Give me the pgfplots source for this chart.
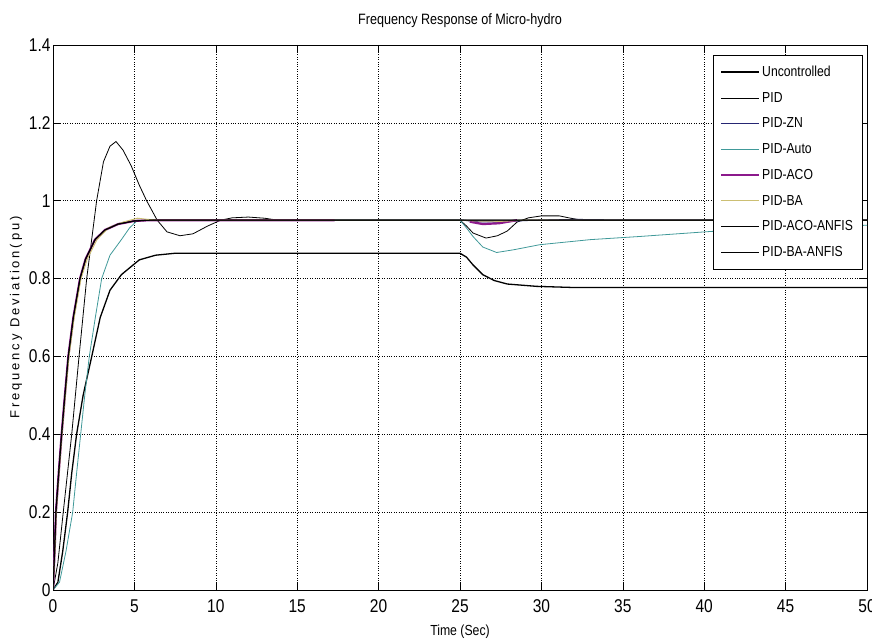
\documentclass[border=0pt]{standalone}
\usepackage{fontspec}
\setmainfont{Liberation Sans}[FakeStretch=0.84]
\newfontfamily\ylabfont{Liberation Sans}[LetterSpace=22]
\usepackage{pgfplots}
\pgfplotsset{compat=1.18}

\definecolor{cAuto}{rgb}{0.25,0.6,0.6}
\definecolor{cZN}{rgb}{0.15,0.15,0.45}
\definecolor{cACO}{rgb}{0.55,0.1,0.55}
\definecolor{cBA}{rgb}{0.8,0.75,0.45}

\begin{document}
\begin{tikzpicture}
\begin{axis}[
    name=ax,
    scale only axis,
    width=814pt, height=545pt,
    xmin=0, xmax=50, ymin=0, ymax=1.4,
    xtick={0,5,...,50},
    ytick={0,0.2,...,1.4},
    tick align=inside,
    tick pos=both,
    major tick length=8pt,
    grid=major,
    major grid style={black, dotted, line width=0.6pt},
    axis line style={black, line width=0.7pt},
    tick style={black, line width=0.6pt},
    /pgf/number format/assume math mode=true,
    ticklabel style={font=\fontsize{18.5}{18.5}\selectfont},
    xticklabel style={yshift=-6pt},
    yticklabel style={xshift=1pt},
    title={Frequency Response of Micro-hydro},
    title style={font=\fontsize{15}{15}\selectfont, yshift=8pt},
    xlabel={Time (Sec)},
    xlabel style={font=\fontsize{14.6}{14.6}\selectfont, yshift=-5pt},
    ylabel={\ylabfont Frequency Deviation(pu)},
    ylabel style={font=\fontsize{13}{13}\selectfont, yshift=0pt},
    legend style={at={(rel axis cs:0.994,0.982)}, anchor=north east,
        draw=black, fill=white, font=\fontsize{14.5}{14.5}\selectfont,
        row sep=10.2pt, inner xsep=7pt, inner ysep=9pt,
        /tikz/every even column/.append style={column sep=2pt}},
    legend cell align=left,
    legend image code/.code={\draw[#1] (0pt,0pt) -- (38pt,0pt);},
    unbounded coords=jump,
]
% Uncontrolled
\addplot[black, line width=1.3pt] coordinates {
(0,0) (0.3,0.02) (0.6,0.1) (0.9,0.2) (1.15,0.3) (1.45,0.4) (1.85,0.5)
(2.38,0.6) (2.9,0.7) (3.5,0.77) (4.2,0.81) (5.3,0.848) (6.3,0.86)
(7.5,0.865) (25,0.865) (25.4,0.855) (25.8,0.835) (26.4,0.81) (27.1,0.795)
(27.9,0.786) (29.7,0.78) (32,0.777) (50,0.777)};
\addlegendentry{Uncontrolled}
% PID
\addplot[black, line width=0.8pt] coordinates {
(0,0) (0.3,0.07) (0.63,0.2) (1.15,0.4) (1.6,0.6) (2.07,0.8) (2.68,1.0)
(3.1,1.1) (3.5,1.14) (3.87,1.152) (4.3,1.13) (4.8,1.09) (5.3,1.04)
(5.75,1.0) (6.4,0.95) (7.0,0.92) (7.8,0.91) (8.6,0.915) (9.5,0.935)
(10.3,0.95) (11,0.956) (12,0.958) (13,0.955) (13.8,0.95) (25,0.95)
(25.4,0.935) (25.8,0.917) (26.6,0.904) (27.3,0.91) (27.9,0.922)
(28.5,0.945) (29.2,0.956) (30,0.961) (31.1,0.961) (31.8,0.955)
(32.5,0.95) (50,0.95)};
\addlegendentry{PID}
% PID-ZN
\addplot[cZN, line width=1pt] coordinates {
(0,0) (0.1,0.1) (0.18,0.2) (0.35,0.3) (0.53,0.4) (0.73,0.5) (0.94,0.6)
(1.25,0.7) (1.66,0.8) (2.0,0.85) (2.58,0.9) (3.2,0.925) (4,0.94)
(5,0.948) (6,0.951) (25,0.951) (26,0.946) (27.5,0.945) (29,0.949)
(32,0.952) (34,0.951) (50,0.951)};
\addlegendentry{PID-ZN}
% PID-Auto
\addplot[cAuto, line width=0.8pt] coordinates {
(0,0) (0.4,0.02) (0.8,0.1) (1.21,0.2) (1.45,0.3) (1.7,0.4) (1.95,0.5)
(2.23,0.6) (2.6,0.7) (2.99,0.8) (3.5,0.86) (4.2,0.9) (4.7,0.93)
(5.2,0.95) (25,0.95) (25.4,0.93) (25.8,0.908) (26.4,0.881) (27.25,0.867)
(28.3,0.874) (29.9,0.887) (33,0.9) (36,0.908) (40.4,0.921) (45,0.93)
(50,0.937)};
\addlegendentry{PID-Auto}
% PID-ACO
\addplot[cACO, line width=2.2pt] coordinates {
(0,0) (0.1,0.1) (0.18,0.2) (0.35,0.3) (0.53,0.4) (0.73,0.5) (0.94,0.6)
(1.25,0.7) (1.66,0.8) (2.0,0.85) (2.58,0.9) (3.2,0.925) (4,0.94)
(5,0.948) (6,0.95) (17.3,0.95) (17.3,nan) (25.6,nan) (25.6,0.946)
(26.4,0.94) (27.4,0.942) (28.5,0.95)};
\addlegendentry{PID-ACO}
% PID-BA
\addplot[cBA, line width=1pt] coordinates {
(0,0) (0.12,0.1) (0.2,0.2) (0.37,0.3) (0.55,0.4) (0.76,0.5) (0.98,0.6)
(1.3,0.7) (1.72,0.8) (2.1,0.85) (2.7,0.9) (3.4,0.93) (4.3,0.945)
(5.2,0.955) (5.8,0.952) (6.5,0.95) (25,0.95) (26,0.948) (27.5,0.947)
(29,0.95) (50,0.95)};
\addlegendentry{PID-BA}
% PID-ACO-ANFIS
\addplot[black, line width=1pt] coordinates {
(0,0) (0.1,0.1) (0.18,0.2) (0.35,0.3) (0.53,0.4) (0.73,0.5) (0.94,0.6)
(1.25,0.7) (1.66,0.8) (2.0,0.85) (2.58,0.9) (3.2,0.925) (4,0.94)
(5,0.948) (6,0.95) (50,0.95)};
\addlegendentry{PID-ACO-ANFIS}
% PID-BA-ANFIS
\addplot[black, line width=1pt] coordinates {
(0,0) (0.1,0.1) (0.18,0.2) (0.35,0.3) (0.53,0.4) (0.73,0.5) (0.94,0.6)
(1.25,0.7) (1.66,0.8) (2.0,0.85) (2.58,0.9) (3.2,0.925) (4,0.94)
(5,0.948) (6,0.95) (50,0.95)};
\addlegendentry{PID-BA-ANFIS}
\end{axis}
\pgfresetboundingbox
\path ([xshift=-53pt,yshift=-49pt]ax.south west) rectangle ([xshift=5pt,yshift=45pt]ax.north east);
\end{tikzpicture}
\end{document}
